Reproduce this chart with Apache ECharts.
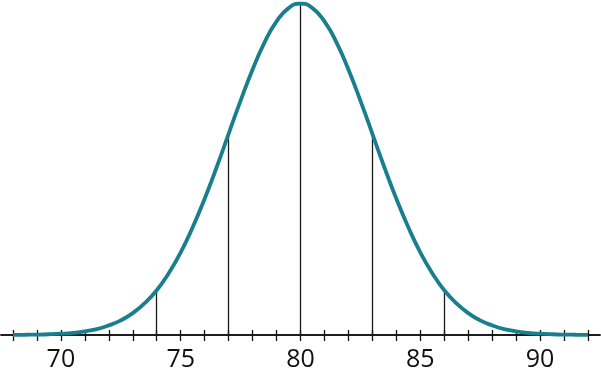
<!DOCTYPE html>
<html>
<head>
<meta charset="utf-8">
<script src="https://cdn.jsdelivr.net/npm/echarts@6/dist/echarts.min.js"></script>
<style>html,body{margin:0;padding:0;background:#fff;}#c{width:601px;height:378px;}</style>
</head>
<body>
<div id="c"></div>
<script>
// Curve x positions and heights (percent of peak)
var curveX = [68,68.5,69,69.5,70,70.5,71,71.5,72,72.5,73,73.5,74,74.5,75,75.5,76,76.5,77,77.5,78,78.5,79,79.5,80,
              80.5,81,81.5,82,82.5,83,83.5,84,84.5,85,85.5,86,86.5,87,87.5,88,88.5,89,89.5,90,90.5,91,91.5,92];
var curveY = [0.03,0.07,0.12,0.22,0.39,0.66,1.1,1.8,2.9,4.4,6.6,9.6,13.5,18.6,24.9,32.5,41.1,50.6,60.7,70.7,80.1,88.3,94.6,98.6,100,
              98.6,94.6,88.3,80.1,70.7,60.7,50.6,41.1,32.5,24.9,18.6,13.5,9.6,6.6,4.4,2.9,1.8,1.1,0.66,0.39,0.22,0.12,0.07,0.03];
// Vertical reference lines
var refX = [74,77,80,83,86];
var refH = [13.5,60.7,100,60.7,13.5];
// Axis ticks and labels
var tickValues = [68,69,70,71,72,73,74,75,76,77,78,79,80,81,82,83,84,85,86,87,88,89,90,91,92];
var labelValues = [70,75,80,85,90];

var chart = echarts.init(document.getElementById('c'));
var curve = curveX.map(function(x,i){return [x,curveY[i]];});
var refLines = refX.map(function(x,i){return [{coord:[x,0]},{coord:[x,refH[i]]}];});
var baseAxis = {
  type:'value', min:67.5, max:92.5, position:'bottom',
  splitLine:{show:false},
  axisLine:{show:true, onZero:false, lineStyle:{color:'#111', width:1.5}},
  axisLabel:{show:false}
};
chart.setOption({
  animation:false,
  grid:{left:1, right:1, top:3.5, bottom:43},
  xAxis:[
    Object.assign({}, baseAxis, {
      axisTick:{show:true, customValues:tickValues, length:6, lineStyle:{color:'#111', width:1.3}},
      axisLabel:{show:true, customValues:labelValues, fontSize:25, color:'#111', fontFamily:'Open Sans', margin:12}
    }),
    Object.assign({}, baseAxis, {
      axisTick:{show:true, inside:true, customValues:tickValues, length:5, lineStyle:{color:'#111', width:1.3}}
    })
  ],
  yAxis:{type:'value', min:0, max:100, show:false},
  series:[{
    type:'line', xAxisIndex:0, data:curve, smooth:true, symbol:'none',
    lineStyle:{color:'#1a7f8d', width:3.8},
    z:3,
    markLine:{
      silent:true, symbol:'none', label:{show:false},
      lineStyle:{color:'#1a1a1a', width:1.3, type:'solid'},
      data:refLines, z:2
    }
  }]
});
</script>
</body>
</html>
